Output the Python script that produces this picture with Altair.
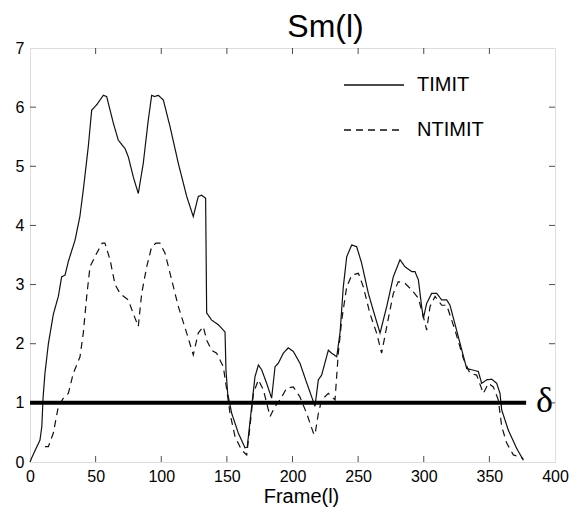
import altair as alt
import pandas as pd

timit_x = [0, 1.3, 4, 7.6, 9, 10, 11.4, 14, 17.8, 21.6, 24.1, 26.7, 29.2, 34.3, 38, 40.6, 44.4, 47, 50.8, 55.9,
           58.4, 63.5, 67.3, 72.4, 74.9, 78.7, 82.5, 86.3, 90.1, 92.7, 95, 97.8, 101.6, 106.7, 113, 119.4, 124.4,
           128.2, 130.8, 133.8, 134.6, 138.4, 143.5, 148.6, 149.3, 150.6, 153.7, 158.7, 163.8, 165.5, 168.9, 171.4,
           174, 176.5, 180.3, 184.1, 186.7, 189.2, 193, 196.8, 200.6, 205.7, 210.8, 215.9, 217.1, 219.7, 222.2,
           227.3, 229.8, 233.7, 236.2, 238.7, 241.3, 245.1, 248.9, 252.7, 257.8, 262.9, 266.7, 271.8, 276.8, 281.9,
           285.7, 290.8, 293.3, 295.9, 298.4, 299.7, 302.2, 306, 309.9, 313.7, 317.5, 320, 326.3, 332.7, 336.5,
           341.6, 344.1, 348, 351.8, 355.6, 358.1, 359.4, 364.4, 370.8, 375.9]
timit_y = [0.0, 0.07, 0.2, 0.37, 0.6, 1.1, 1.5, 2.0, 2.5, 2.8, 3.13, 3.16, 3.39, 3.75, 4.15, 4.6, 5.33, 5.95, 6.04, 6.2,
           6.18, 5.73, 5.44, 5.3, 5.16, 4.82, 4.54, 5.05, 5.78, 6.2, 6.18, 6.2, 6.12, 5.67, 5.05, 4.49, 4.15,
           4.49, 4.51, 4.46, 2.52, 2.4, 2.32, 2.2, 1.56, 1.16, 0.82, 0.49, 0.24, 0.25, 0.94, 1.44,
           1.64, 1.56, 1.33, 1.08, 1.61, 1.67, 1.84, 1.93, 1.87, 1.67, 1.34, 1.02, 0.94, 1.39, 1.47,
           1.89, 1.84, 1.78, 2.18, 2.96, 3.47, 3.67, 3.64, 3.36, 2.85, 2.46, 2.18, 2.63, 3.13, 3.42,
           3.3, 3.22, 3.22, 3.08, 2.63, 2.43, 2.68, 2.85, 2.85, 2.74, 2.74, 2.65, 2.12, 1.58, 1.56,
           1.53, 1.33, 1.39, 1.40, 1.33, 1.16, 0.88, 0.54, 0.23, 0.03]

ntimit_x = [11.4, 14, 17.8, 21.6, 25.4, 29.2, 33, 38.1, 40.6, 43.2, 45.7, 50.8, 55, 57.1, 61, 64.8, 68.6, 74.9, 78.7,
            82.5, 85.1, 88.9, 92.7, 96, 99, 102.9, 106.7, 113, 119.4, 124.4, 128.2, 132, 134.6, 138.4, 142.2, 147.3,
            149.9, 152.4, 156.2, 161.3, 165.1, 167.6, 170.2, 174, 177.8, 182.9, 186.7, 190.5, 195.6, 200.6, 205.7,
            210.8, 215.9, 217.1, 219.7, 222.2, 227.3, 232.4, 234.9, 237.5, 241.3, 245.1, 250.2, 254, 259, 264.1,
            267.9, 271.8, 276.8, 280.6, 285.7, 290.8, 295.9, 299.7, 302.2, 304.8, 308.6, 313.7, 317.5, 323.8,
            330.2, 335.2, 340.3, 345.4, 349.2, 353, 356.8, 359.4, 363.2, 368.3, 375.9]
ntimit_y = [0.26, 0.26, 0.49, 0.94, 1.08, 1.16, 1.5, 1.78, 2.18, 2.8, 3.3, 3.53, 3.7, 3.7, 3.42, 3.0, 2.85, 2.74, 2.51,
            2.29, 2.85, 3.3, 3.64, 3.7, 3.7, 3.53, 3.19, 2.63, 2.18, 1.81, 2.18, 2.29, 2.06, 1.89, 1.84, 1.61,
            1.22, 0.82, 0.43, 0.2, 0.12, 0.6, 1.16, 1.39, 1.22, 0.77, 0.94, 1.05, 1.25, 1.27, 1.1,
            0.82, 0.49, 0.46, 0.82, 1.05, 1.16, 1.05, 1.84, 2.4, 2.96, 3.16, 3.19, 2.96, 2.51, 2.18,
            1.84, 2.29, 2.85, 3.05, 3.02, 2.91, 2.77, 2.46, 2.23, 2.63, 2.8, 2.65, 2.65, 2.23,
            1.75, 1.5, 1.47, 1.16, 1.33, 1.27, 1.05, 0.6, 0.32, 0.12, 0.06]

series_names = ["TIMIT", "NTIMIT"]
delta_value = 1
delta_x = [0, 378]
delta_label = "δ"
delta_label_x = 392
x_ticks = [0, 50, 100, 150, 200, 250, 300, 350, 400]
y_ticks = [0, 1, 2, 3, 4, 5, 6, 7]

df = pd.concat([
    pd.DataFrame({"frame": timit_x, "sm": timit_y, "series": "TIMIT", "order": range(len(timit_x))}),
    pd.DataFrame({"frame": ntimit_x, "sm": ntimit_y, "series": "NTIMIT", "order": range(len(ntimit_x))}),
])

FONT = "Liberation Sans, Arial, sans-serif"

xscale = alt.Scale(domain=[0, 400], nice=False)
yscale = alt.Scale(domain=[0, 7], nice=False)

xaxis = alt.Axis(values=x_ticks, format="d", ticks=False, domain=False, grid=False, labelFontSize=16,
                 labelFont=FONT, labelColor="black", labelPadding=6, title="Frame(l)",
                 titleFont=FONT, titleFontSize=20, titleFontWeight="normal", titleColor="black",
                 titlePadding=2, titleX=271, labelFlush=False)
yaxis = alt.Axis(values=y_ticks, format="d", ticks=False, domain=False, grid=False, labelFontSize=16,
                 labelFont=FONT, labelColor="black", labelPadding=6, title=None, labelFlush=False)

lines = alt.Chart(df).mark_line(strokeWidth=1.2, color="#111").encode(
    x=alt.X("frame:Q", scale=xscale, axis=xaxis),
    y=alt.Y("sm:Q", scale=yscale, axis=yaxis),
    detail="series:N",
    order="order:Q",
    strokeDash=alt.StrokeDash("series:N",
        scale=alt.Scale(domain=series_names, range=[[1, 0], [7, 5]]),
        legend=alt.Legend(title=None, orient="none", legendX=313, legendY=27,
                          symbolType="stroke", symbolSize=3600, symbolStrokeWidth=1.3,
                          symbolStrokeColor="#111", labelFont=FONT, labelFontSize=20,
                          labelColor="black", labelOffset=12, rowPadding=25, clipHeight=20,
                          symbolDash=[6, 5])),
)

delta_df = pd.DataFrame({"x": [delta_x[0]], "x2": [delta_x[1]], "y": [delta_value]})
delta_line = alt.Chart(delta_df).mark_rule(strokeWidth=4, color="black").encode(
    x=alt.X("x:Q", scale=xscale), x2="x2:Q", y=alt.Y("y:Q", scale=yscale))

delta_text_df = pd.DataFrame({"x": [delta_label_x], "y": [delta_value], "t": [delta_label]})
delta_text = alt.Chart(delta_text_df).mark_text(
    font="Liberation Serif", fontSize=36, align="center", baseline="middle", color="black",
    dy=-2, clip=False).encode(x=alt.X("x:Q", scale=xscale), y=alt.Y("y:Q", scale=yscale), text="t:N")

xt = pd.DataFrame({"v": x_ticks[1:-1]})
yt = pd.DataFrame({"v": y_ticks[1:-1]})
tick_bottom = alt.Chart(xt).mark_tick(orient="vertical", size=6, thickness=1, color="black").encode(
    x=alt.X("v:Q", scale=xscale), y=alt.datum(0, scale=yscale), yOffset=alt.value(-3))
tick_top = alt.Chart(xt).mark_tick(orient="vertical", size=6, thickness=1, color="black").encode(
    x=alt.X("v:Q", scale=xscale), y=alt.datum(7, scale=yscale), yOffset=alt.value(3))
tick_left = alt.Chart(yt).mark_tick(orient="horizontal", size=6, thickness=1, color="black").encode(
    y=alt.Y("v:Q", scale=yscale), x=alt.datum(0, scale=xscale), xOffset=alt.value(3))
tick_right = alt.Chart(yt).mark_tick(orient="horizontal", size=6, thickness=1, color="black").encode(
    y=alt.Y("v:Q", scale=yscale), x=alt.datum(400, scale=xscale), xOffset=alt.value(-3))

chart = alt.layer(tick_bottom, tick_top, tick_left, tick_right, lines, delta_line, delta_text).properties(
    width=525, height=414,
    title=alt.TitleParams("Sm(l)", font=FONT, fontSize=32, fontWeight="normal", color="black",
                          anchor="middle", offset=0, dx=33, dy=4),
    autosize=alt.AutoSizeParams(type="none"),
    padding={"left": 22, "top": 40, "right": 16, "bottom": 47},
).configure_view(stroke="black", strokeWidth=1).configure(background="white")

chart.save("out.html", embed_options={"renderer": "svg", "actions": False})
